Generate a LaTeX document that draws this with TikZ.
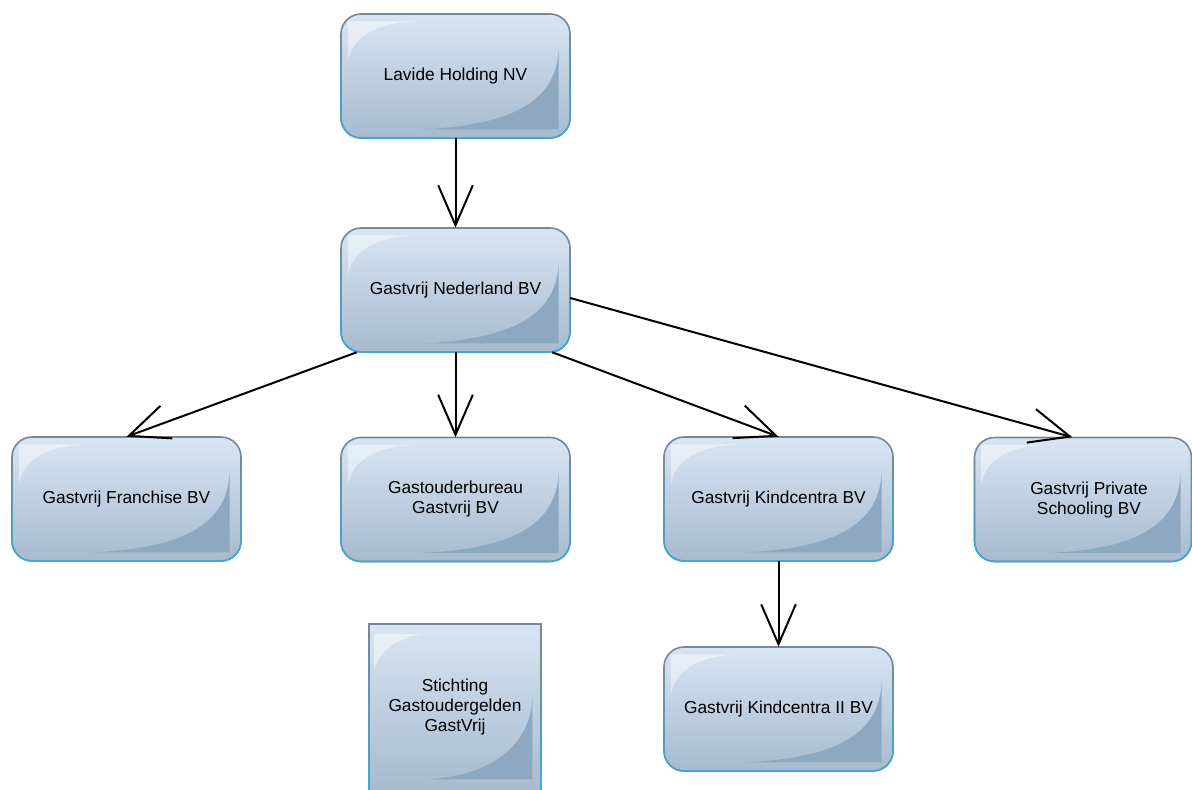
\documentclass[tikz,border=0pt]{standalone}
\usepackage{fontspec}
\setmainfont{Liberation Sans}
\usetikzlibrary{arrows.meta,fadings}
\definecolor{topc}{HTML}{D8E5F3}
\definecolor{botc}{HTML}{A7BACF}
\definecolor{darkc}{HTML}{8FA8C1}
\definecolor{edgec}{HTML}{7A8794}
\definecolor{edgeb}{HTML}{3FA9D8}
\tikzset{
  boxtext/.style={align=center, font=\fontsize{13}{15}\selectfont, inner sep=0pt},
  conn/.style={line width=1.5pt, black,
    -{Straight Barb[length=30pt,width=26pt,line width=1.5pt]}}
}
% #1 name, #2 cx, #3 cy, #4 w, #5 h, #6 corner radius, #7 highlight depth, #8 dark height, #9 text
\newcommand\orgbox[9]{%
  \pgfmathsetmacro\bL{#2-#4/2}\pgfmathsetmacro\bR{#2+#4/2}%
  \pgfmathsetmacro\bT{#3-#5/2}\pgfmathsetmacro\bB{#3+#5/2}%
  \pgfmathsetmacro\bW{#4}\pgfmathsetmacro\bH{#5}%
  \begin{scope}
    \clip[rounded corners=#6] (\bL,\bT) rectangle (\bR,\bB);
    \fill[top color=topc, bottom color=botc] (\bL,\bT) rectangle (\bR,\bB);
    \fill[white, opacity=0.45] ({\bL+0.03*\bW},{\bT+#7*\bH})
      -- ({\bL+0.03*\bW},{\bT+0.06*\bH}) -- ({\bL+0.32*\bW},{\bT+0.06*\bH})
      .. controls ({\bL+0.13*\bW},{\bT+0.08*\bH}) and ({\bL+0.05*\bW},{\bT+0.2*\bH}) .. cycle;
    \fill[darkc] ({\bL+0.35*\bW},{\bB-0.07*\bH})
      .. controls ({\bL+0.75*\bW},{\bB-0.10*\bH}) and ({\bL+0.94*\bW},{\bB-0.30*\bH})
      .. ({\bL+0.95*\bW},{\bB-#8*\bH}) -- ({\bL+0.95*\bW},{\bB-0.07*\bH}) -- cycle;
  \end{scope}
  \draw[edgec, line width=1.2pt, rounded corners=#6] (\bL,\bT) rectangle (\bR,\bB);
  \draw[edgeb, line width=1.2pt, rounded corners=#6, path fading=north] (\bL,\bT) rectangle (\bR,\bB);
  \node[boxtext, minimum width=#4*0.75pt, minimum height=#5*0.75pt] (#1) at (#2,#3) {#9};
}
\begin{document}
\begin{tikzpicture}[x=0.75pt,y=-0.75pt]
\useasboundingbox (0,0) rectangle (1192,789);
\begin{scope}
\clip (0,0) rectangle (1192,789);
\orgbox{lavide}{455.5}{76}{229}{124}{15pt}{0.38}{0.71}{Lavide Holding NV}
\orgbox{gn}{455.5}{290}{229}{124}{15pt}{0.38}{0.71}{Gastvrij Nederland BV}
\orgbox{fr}{126.5}{499}{229}{124}{15pt}{0.38}{0.71}{Gastvrij Franchise BV}
\orgbox{gob}{455.5}{499.5}{229}{124}{15pt}{0.38}{0.71}{Gastouderbureau\\Gastvrij BV}
\orgbox{kc}{778.5}{499}{229}{124}{15pt}{0.38}{0.71}{Gastvrij Kindcentra BV}
\orgbox{priv}{1083}{499.5}{217}{124}{15pt}{0.38}{0.71}{}
\node[boxtext] (privtext) at (1089,500) {Gastvrij Private\\Schooling BV};
\orgbox{kc2}{778.5}{709}{229}{124}{15pt}{0.38}{0.71}{Gastvrij Kindcentra II BV}
\orgbox{st}{455}{707.5}{172}{167}{0pt}{0.27}{0.56}{Stichting\\Gastoudergelden\\GastVrij}
\end{scope}
\draw[conn] (lavide.south) -- (gn.north);
\draw[conn] ([xshift=12pt]gn.south west) -- (fr.north);
\draw[conn] (gn.south) -- (gob.north);
\draw[conn] ([xshift=-13.5pt]gn.south east) -- (kc.north);
\draw[conn] ([yshift=-6pt]gn.east) -- ([xshift=-8pt]priv.north);
\draw[conn] (kc.south) -- (kc2.north);
\end{tikzpicture}
\end{document}
